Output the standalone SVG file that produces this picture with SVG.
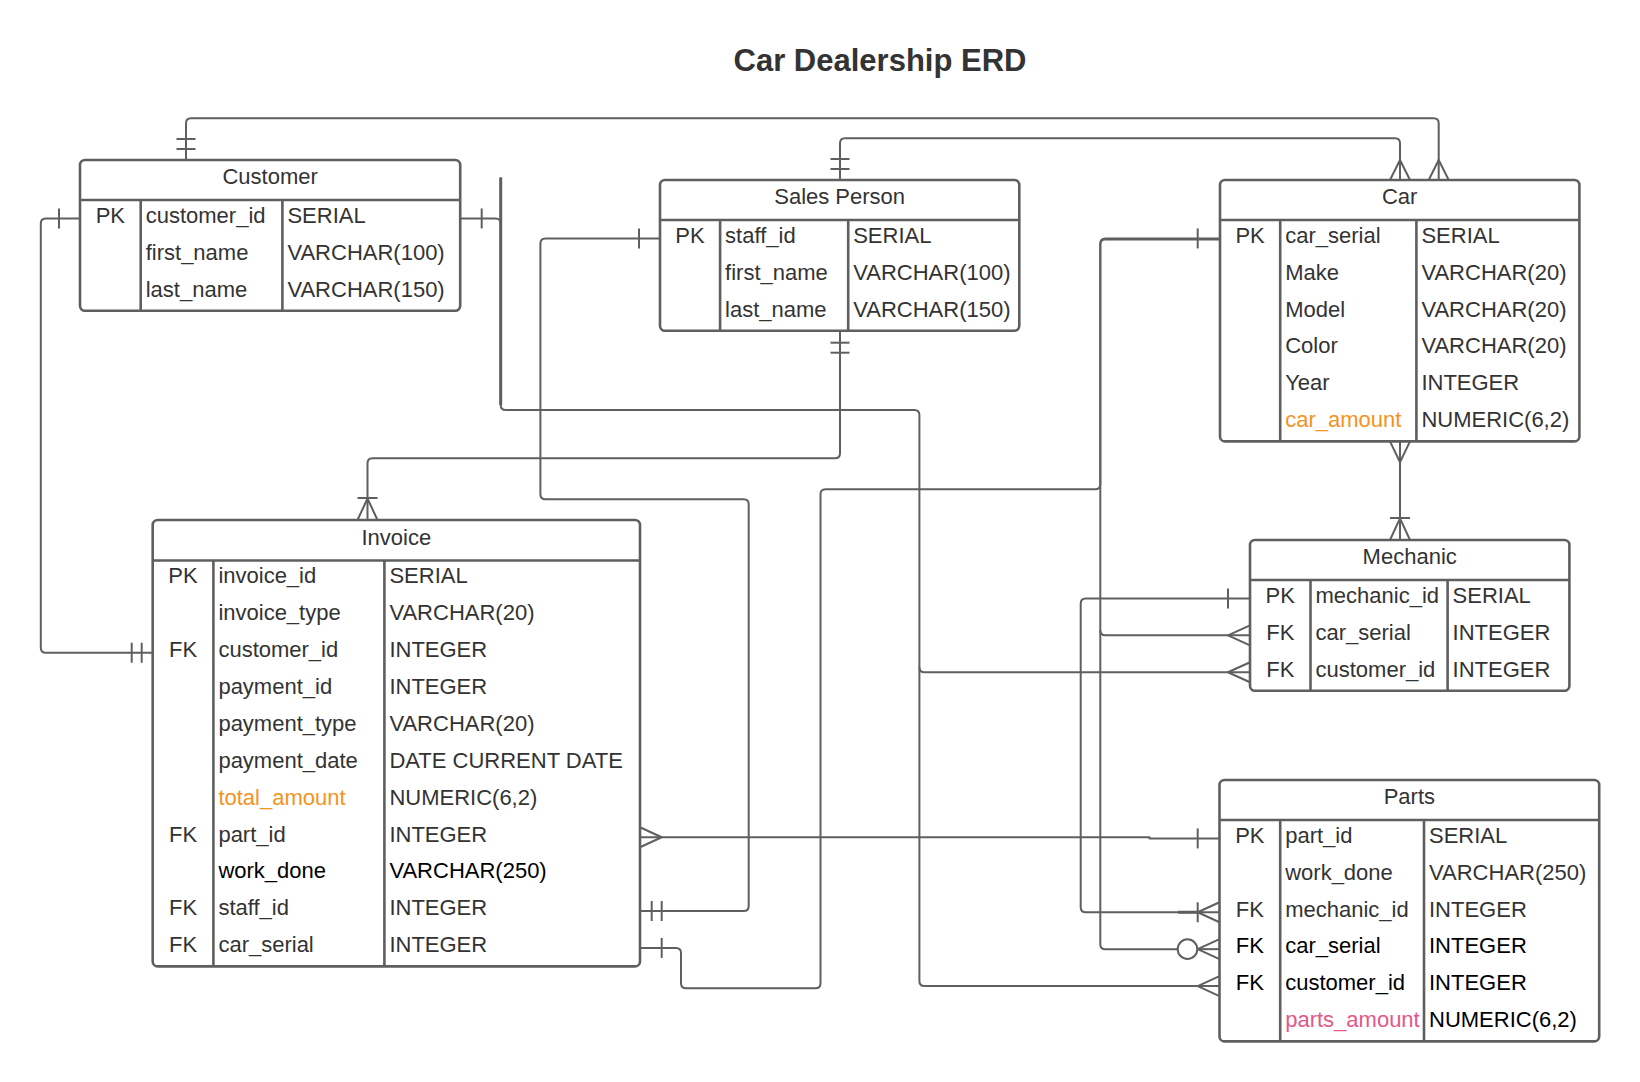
<svg xmlns="http://www.w3.org/2000/svg" width="1640" height="1082" viewBox="0 0 1640 1082">
<style>
.bg{fill:#ffffff}
.box{fill:#ffffff;stroke:#5f5f5f;stroke-width:2.6}
.ln{fill:none;stroke:#5f5f5f;stroke-width:2.6}
.t{font-family:"Liberation Sans",Arial,sans-serif;font-size:22px;fill:#333333}
.c{text-anchor:middle}
.k{fill:#000000}
.o{fill:#f39322}
.p{fill:#e2588a}
.title{font-family:"Liberation Sans",Arial,sans-serif;font-size:31px;font-weight:bold;fill:#333333;text-anchor:middle}
#connectors path,#connectors line{fill:none;stroke:#5f5f5f;stroke-width:2;stroke-linejoin:round}
#connectors .thick{stroke-width:3}
#connectors circle{fill:#ffffff;stroke:#5f5f5f;stroke-width:2}
</style>
<rect class="bg" x="0" y="0" width="1640" height="1082"/>
<text class="title" x="880" y="70.7">Car Dealership ERD</text>

<g id="connectors">
  <!-- Customer top -> Car top -->
  <path d="M186,160 V123.3 Q186,118.3 191,118.3 H1433.7 Q1438.7,118.3 1438.7,123.3 V180"/>
  <line x1="176.5" y1="139" x2="195.5" y2="139"/>
  <line x1="176.5" y1="149" x2="195.5" y2="149"/>
  <path d="M1428.7,180 L1438.7,160 L1448.7,180"/>

  <!-- Sales Person top -> Car top -->
  <path d="M840,180 V143.3 Q840,138.3 845,138.3 H1395 Q1400,138.3 1400,143.3 V180"/>
  <line x1="830.5" y1="159" x2="849.5" y2="159"/>
  <line x1="830.5" y1="169" x2="849.5" y2="169"/>
  <path d="M1390,180 L1400,160 L1410,180"/>

  <!-- Sales Person bottom -> Invoice top -->
  <path d="M840,330.7 V453.3 Q840,458.3 835,458.3 H372.5 Q367.5,458.3 367.5,463.3 V520"/>
  <line x1="830.5" y1="342.7" x2="849.5" y2="342.7"/>
  <line x1="830.5" y1="352.7" x2="849.5" y2="352.7"/>
  <line x1="357.5" y1="498" x2="377.5" y2="498"/>
  <path d="M357.5,520 L367.5,498.5 L377.5,520"/>

  <!-- Customer left -> Invoice customer_id -->
  <path d="M80,218.45 H45.8 Q40.8,218.45 40.8,223.45 V647.75 Q40.8,652.75 45.8,652.75 H152.7"/>
  <line x1="59" y1="208.45" x2="59" y2="228.45"/>
  <line x1="131.7" y1="642.75" x2="131.7" y2="662.75"/>
  <line x1="141.7" y1="642.75" x2="141.7" y2="662.75"/>

  <!-- Customer right -> Mechanic customer_id, Parts customer_id -->
  <path d="M460.2,218.45 H495.7 Q500.7,218.45 500.7,223.45 V405 Q500.7,410 505.7,410 H914.4 Q919.4,410 919.4,415 V981.05 Q919.4,986.05 924.4,986.05 H1219.5"/>
  <path class="thick" d="M500.7,177.3 V405"/>
  <path d="M919.4,667.25 Q919.4,672.25 924.4,672.25 H1250"/>
  <line x1="481.7" y1="208.45" x2="481.7" y2="228.45"/>
  <path d="M1250,662.25 L1228,672.25 L1250,682.25"/>
  <path d="M1219.5,976.05 L1197.7,986.05 L1219.5,996.05"/>

  <!-- Sales Person left -> Invoice staff_id -->
  <path d="M660,238.45 H545.4 Q540.4,238.45 540.4,243.45 V494.3 Q540.4,499.3 545.4,499.3 H743.7 Q748.7,499.3 748.7,504.3 V906.05 Q748.7,911.05 743.7,911.05 H640"/>
  <line x1="639" y1="228.45" x2="639" y2="248.45"/>
  <line x1="651.7" y1="901.05" x2="651.7" y2="921.05"/>
  <line x1="661.7" y1="901.05" x2="661.7" y2="921.05"/>

  <!-- Car left -> Invoice car_serial -->
  <path d="M1220,238.45 H1105.3 Q1100.3,238.45 1100.3,243.45 V484.3 Q1100.3,489.3 1095.3,489.3 H825.5 Q820.5,489.3 820.5,494.3 V983.3 Q820.5,988.3 815.5,988.3 H686 Q681,988.3 681,983.3 V952.95 Q681,947.95 676,947.95 H640"/>
  <line x1="1197.7" y1="228.45" x2="1197.7" y2="248.45"/>
  <line x1="661.7" y1="937.95" x2="661.7" y2="957.95"/>

  <!-- Car left -> Mechanic car_serial, Parts car_serial -->
  <path d="M1220,239.6 H1105.3 Q1100.3,239.6 1100.3,244.6 V944.15 Q1100.3,949.15 1105.3,949.15 H1177.5"/>
  <path d="M1100.3,630.35 Q1100.3,635.35 1105.3,635.35 H1250"/>
  <path d="M1250,625.35 L1228,635.35 L1250,645.35"/>
  <line x1="1197.5" y1="949.15" x2="1219.5" y2="949.15"/>
  <path d="M1219.5,939.15 L1197.7,949.15 L1219.5,959.15"/>
  <circle cx="1187.5" cy="949.15" r="9.8"/>

  <!-- Mechanic PK -> Parts mechanic_id -->
  <path d="M1250,598.45 H1085.7 Q1080.7,598.45 1080.7,603.45 V907.25 Q1080.7,912.25 1085.7,912.25 H1219.5"/>
  <path class="thick" d="M1178,912.25 H1198"/>
  <line x1="1228" y1="588.45" x2="1228" y2="608.45"/>
  <line x1="1197.7" y1="902.25" x2="1197.7" y2="922.25"/>
  <path d="M1219.5,902.25 L1197.7,912.25 L1219.5,922.25"/>

  <!-- Invoice part_id -> Parts PK -->
  <path d="M640,837.25 H1149.5 V838.45 H1219.5"/>
  <path d="M640,827.25 L661.7,837.25 L640,847.25"/>
  <line x1="1197.7" y1="828.45" x2="1197.7" y2="848.45"/>

  <!-- Car bottom -> Mechanic top -->
  <path d="M1400,441.4 V540"/>
  <path d="M1390,441.4 L1400,462.3 L1410,441.4"/>
  <line x1="1390" y1="518" x2="1410" y2="518"/>
  <path d="M1390,540 L1400,518.3 L1410,540"/>
</g>

<g id="customer">
  <rect class="box" x="80" y="160" width="380.2" height="150.7" rx="5"/>
  <path class="ln" d="M80,200 H460.2 M140.7,200 V310.7 M282.4,200 V310.7"/>
  <text class="t c" x="270.1" y="184.3">Customer</text>
  <text class="t c" x="110.35" y="222.7">PK</text>
  <text class="t" x="145.7" y="222.7">customer_id</text>
  <text class="t" x="287.4" y="222.7">SERIAL</text>
  <text class="t" x="145.7" y="259.6">first_name</text>
  <text class="t" x="287.4" y="259.6">VARCHAR(100)</text>
  <text class="t" x="145.7" y="296.5">last_name</text>
  <text class="t" x="287.4" y="296.5">VARCHAR(150)</text>
</g>

<g id="sales-person">
  <rect class="box" x="660" y="180" width="359.3" height="150.7" rx="5"/>
  <path class="ln" d="M660,220 H1019.3 M720.1,220 V330.7 M848.2,220 V330.7"/>
  <text class="t c" x="839.65" y="204.3">Sales Person</text>
  <text class="t c" x="690.05" y="242.7">PK</text>
  <text class="t" x="725.1" y="242.7">staff_id</text>
  <text class="t" x="853.2" y="242.7">SERIAL</text>
  <text class="t" x="725.1" y="279.6">first_name</text>
  <text class="t" x="853.2" y="279.6">VARCHAR(100)</text>
  <text class="t" x="725.1" y="316.5">last_name</text>
  <text class="t" x="853.2" y="316.5">VARCHAR(150)</text>
</g>

<g id="car">
  <rect class="box" x="1220" y="180" width="359.4" height="261.4" rx="5"/>
  <path class="ln" d="M1220,220 H1579.4 M1280.2,220 V441.4 M1416.4,220 V441.4"/>
  <text class="t c" x="1399.7" y="204.3">Car</text>
  <text class="t c" x="1250.1" y="242.7">PK</text>
  <text class="t" x="1285.2" y="242.7">car_serial</text>
  <text class="t" x="1421.4" y="242.7">SERIAL</text>
  <text class="t" x="1285.2" y="279.6">Make</text>
  <text class="t" x="1421.4" y="279.6">VARCHAR(20)</text>
  <text class="t" x="1285.2" y="316.5">Model</text>
  <text class="t" x="1421.4" y="316.5">VARCHAR(20)</text>
  <text class="t" x="1285.2" y="353.4">Color</text>
  <text class="t" x="1421.4" y="353.4">VARCHAR(20)</text>
  <text class="t" x="1285.2" y="390.3">Year</text>
  <text class="t" x="1421.4" y="390.3">INTEGER</text>
  <text class="t o" x="1285.2" y="427.2">car_amount</text>
  <text class="t" x="1421.4" y="427.2">NUMERIC(6,2)</text>
</g>

<g id="mechanic">
  <rect class="box" x="1250" y="540" width="319.4" height="150.7" rx="5"/>
  <path class="ln" d="M1250,580 H1569.4 M1310.5,580 V690.7 M1447.6,580 V690.7"/>
  <text class="t c" x="1409.7" y="564.3">Mechanic</text>
  <text class="t c" x="1280.25" y="602.7">PK</text>
  <text class="t" x="1315.5" y="602.7">mechanic_id</text>
  <text class="t" x="1452.6" y="602.7">SERIAL</text>
  <text class="t c" x="1280.25" y="639.6">FK</text>
  <text class="t" x="1315.5" y="639.6">car_serial</text>
  <text class="t" x="1452.6" y="639.6">INTEGER</text>
  <text class="t c" x="1280.25" y="676.5">FK</text>
  <text class="t" x="1315.5" y="676.5">customer_id</text>
  <text class="t" x="1452.6" y="676.5">INTEGER</text>
</g>

<g id="parts">
  <rect class="box" x="1219.5" y="780" width="379.7" height="261.4" rx="5"/>
  <path class="ln" d="M1219.5,820 H1599.2 M1280.2,820 V1041.4 M1424,820 V1041.4"/>
  <text class="t c" x="1409.35" y="804.3">Parts</text>
  <text class="t c" x="1249.85" y="842.7">PK</text>
  <text class="t" x="1285.2" y="842.7">part_id</text>
  <text class="t" x="1429" y="842.7">SERIAL</text>
  <text class="t" x="1285.2" y="879.6">work_done</text>
  <text class="t" x="1429" y="879.6">VARCHAR(250)</text>
  <text class="t c" x="1249.85" y="916.5">FK</text>
  <text class="t" x="1285.2" y="916.5">mechanic_id</text>
  <text class="t" x="1429" y="916.5">INTEGER</text>
  <text class="t c k" x="1249.85" y="953.4">FK</text>
  <text class="t k" x="1285.2" y="953.4">car_serial</text>
  <text class="t k" x="1429" y="953.4">INTEGER</text>
  <text class="t c k" x="1249.85" y="990.3">FK</text>
  <text class="t k" x="1285.2" y="990.3">customer_id</text>
  <text class="t k" x="1429" y="990.3">INTEGER</text>
  <text class="t p" x="1285.2" y="1027.2">parts_amount</text>
  <text class="t k" x="1429" y="1027.2">NUMERIC(6,2)</text>
</g>

<g id="invoice">
  <rect class="box" x="152.7" y="520" width="487.3" height="446.4" rx="5"/>
  <path class="ln" d="M152.7,560.5 H640 M213.4,560.5 V966.4 M384.4,560.5 V966.4"/>
  <text class="t c" x="396.35" y="544.5">Invoice</text>
  <text class="t c" x="183.05" y="583.2">PK</text>
  <text class="t" x="218.4" y="583.2">invoice_id</text>
  <text class="t" x="389.4" y="583.2">SERIAL</text>
  <text class="t" x="218.4" y="620.1">invoice_type</text>
  <text class="t" x="389.4" y="620.1">VARCHAR(20)</text>
  <text class="t c" x="183.05" y="657">FK</text>
  <text class="t" x="218.4" y="657">customer_id</text>
  <text class="t" x="389.4" y="657">INTEGER</text>
  <text class="t" x="218.4" y="693.9">payment_id</text>
  <text class="t" x="389.4" y="693.9">INTEGER</text>
  <text class="t" x="218.4" y="730.8">payment_type</text>
  <text class="t" x="389.4" y="730.8">VARCHAR(20)</text>
  <text class="t" x="218.4" y="767.7">payment_date</text>
  <text class="t" x="389.4" y="767.7">DATE CURRENT DATE</text>
  <text class="t o" x="218.4" y="804.6">total_amount</text>
  <text class="t" x="389.4" y="804.6">NUMERIC(6,2)</text>
  <text class="t c" x="183.05" y="841.5">FK</text>
  <text class="t" x="218.4" y="841.5">part_id</text>
  <text class="t" x="389.4" y="841.5">INTEGER</text>
  <text class="t k" x="218.4" y="878.4">work_done</text>
  <text class="t k" x="389.4" y="878.4">VARCHAR(250)</text>
  <text class="t c" x="183.05" y="915.3">FK</text>
  <text class="t" x="218.4" y="915.3">staff_id</text>
  <text class="t" x="389.4" y="915.3">INTEGER</text>
  <text class="t c" x="183.05" y="952.2">FK</text>
  <text class="t" x="218.4" y="952.2">car_serial</text>
  <text class="t" x="389.4" y="952.2">INTEGER</text>
</g>
</svg>
